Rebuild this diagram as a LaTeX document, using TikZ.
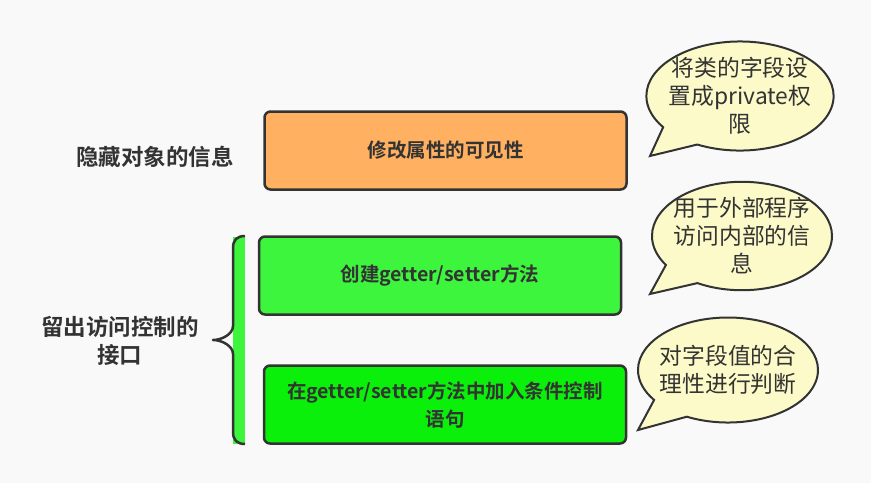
\documentclass[tikz,border=0pt]{standalone}
\usepackage{fontspec}
\setmainfont{Noto Sans CJK SC}[BoldFont={Noto Sans CJK SC Bold}]
\usetikzlibrary{shapes.callouts}

\definecolor{ink}{RGB}{51,51,51}
\definecolor{paper}{RGB}{249,249,249}
\definecolor{boxorange}{RGB}{255,176,96}
\definecolor{boxgreen}{RGB}{60,245,60}
\definecolor{boxlime}{RGB}{10,240,10}
\definecolor{bubblefill}{RGB}{252,250,200}

\begin{document}
\begin{tikzpicture}[x=1pt,y=-1pt,
  box/.style={draw=ink,line width=2.5pt,rounded corners=6pt,minimum width=362pt,minimum height=78pt,align=center,text=ink,font=\fontsize{19.5pt}{28pt}\selectfont\bfseries},
  bubble/.style={ellipse callout,draw=ink,line width=2pt,fill=bubblefill,inner xsep=-5pt,inner ysep=0pt,callout pointer arc=28,minimum width=180pt,minimum height=105pt,align=center,text=ink,font=\fontsize{22.8pt}{28pt}\selectfont},
  side/.style={align=center,text=ink,font=\fontsize{22.5pt}{28pt}\selectfont\bfseries},
]
  \useasboundingbox[fill=paper] (0,0) rectangle (871,483);

  % left labels
  \node[side] (hide) at (155,157) {隐藏对象的信息};
  \node[side] (open) at (120,341) {留出访问控制的\\接口};

  % brace
  \fill[boxgreen] (233,237) rectangle (245,444);
  \draw[ink,line width=2.5pt,line join=round]
    (245,236) .. controls (237,236) and (233,240) .. (233,248) -- (233,326)
    .. controls (233,334) and (222,340) .. (213,340)
    .. controls (222,340) and (233,346) .. (233,354) -- (233,432)
    .. controls (233,440) and (237,444) .. (245,444);

  % boxes
  \node[box,fill=boxorange] (vis) at (445.5,150.5) {修改属性的可见性};
  \node[box,fill=boxgreen] (getset) at (440,275.5) {创建getter/setter方法};
  \node[box,fill=boxlime] (check) at (445,404.5) {在getter/setter方法中加入条件控制\\语句};

  % callouts
  \coordinate (tipA) at (650,156);
  \coordinate (tipB) at (650,294);
  \coordinate (tipC) at (638,430);
  \node[bubble,callout absolute pointer={(tipA)}] (noteA) at (740,96) {将类的字段设\\置成private权\\限};
  \node[bubble,callout absolute pointer={(tipB)}] (noteB) at (742,236) {用于外部程序\\访问内部的信\\息};
  \node[bubble,callout absolute pointer={(tipC)}] (noteC) at (728,370) {对字段值的合\\理性进行判断};
\end{tikzpicture}
\end{document}
